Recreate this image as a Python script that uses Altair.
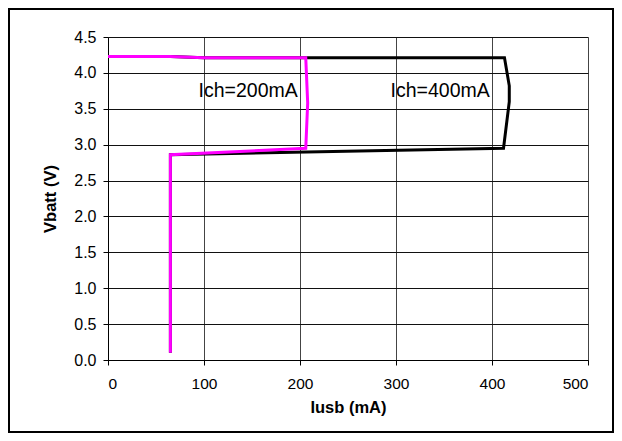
import altair as alt
import pandas as pd

# Data
black_x = [65, 65, 412, 418, 418, 413, 100, 65, 0]
black_y = [0.10, 2.86, 2.95, 3.60, 3.82, 4.21, 4.21, 4.23, 4.23]
magenta_x = [65, 65, 206, 208, 206, 100, 65, 0]
magenta_y = [0.10, 2.86, 2.95, 3.58, 4.21, 4.21, 4.23, 4.23]

label_text = ["Ich=200mA", "Ich=400mA"]
label_x = [146, 346]
label_y = [3.75, 3.75]

x_ticks = [0, 100, 200, 300, 400, 500]
y_ticks = [0.0, 0.5, 1.0, 1.5, 2.0, 2.5, 3.0, 3.5, 4.0, 4.5]

FONT = "Liberation Sans, Arial, sans-serif"

df_black = pd.DataFrame({"x": black_x, "y": black_y, "o": list(range(len(black_x)))})
df_mag = pd.DataFrame({"x": magenta_x, "y": magenta_y, "o": list(range(len(magenta_x)))})
df_lab = pd.DataFrame({"t": label_text, "x": label_x, "y": label_y})

xscale = alt.Scale(domain=[0, 500], nice=False, zero=False)
yscale = alt.Scale(domain=[0, 4.5], nice=False, zero=False)

xaxis = alt.Axis(values=x_ticks, title="Iusb (mA)", format="d",
                 grid=True, gridColor="#444444", gridWidth=1, gridOpacity=1,
                 domainColor="black", tickColor="black", tickSize=5,
                 labelFont=FONT, labelFontSize=15.5, labelColor="black", labelPadding=11,
                 labelOverlap=False,
                 titleFont=FONT, titleFontSize=16.5, titleFontWeight="bold",
                 titleColor="black", titlePadding=8)
yaxis = alt.Axis(values=y_ticks, title="Vbatt (V)", format=".1f",
                 grid=True, gridColor="#111111", gridWidth=1, gridOpacity=1,
                 domainColor="black", tickColor="black", tickSize=5,
                 labelFont=FONT, labelFontSize=16, labelColor="black", labelPadding=7,
                 labelOverlap=False,
                 titleFont=FONT, titleFontSize=16.5, titleFontWeight="bold",
                 titleColor="black", titlePadding=15)

X = alt.X("x:Q", scale=xscale, axis=xaxis)
Y = alt.Y("y:Q", scale=yscale, axis=yaxis)

black = alt.Chart(df_black).mark_line(color="black", strokeWidth=3, strokeJoin="miter").encode(
    x=X, y=Y, order="o:Q",
)
mag = alt.Chart(df_mag).mark_line(color="#FF00FF", strokeWidth=3, strokeJoin="miter").encode(
    x=X, y=Y, order="o:Q",
)
labels = alt.Chart(df_lab).mark_text(font=FONT, fontSize=19.5, color="black",
                                     align="center", baseline="middle").encode(
    x=X, y=Y, text="t:N",
)
frame = alt.Chart(alt.Data(values=[{}])).mark_rect(
    fill=None, stroke="black", strokeWidth=2, clip=False
).encode(
    x=alt.value(-99), x2=alt.value(505), y=alt.value(-28), y2=alt.value(395)
)

chart = alt.layer(black, mag, labels, frame).properties(
    width=480, height=323,
    padding={"left": 100, "top": 29, "right": 26, "bottom": 73},
    autosize=alt.AutoSizeParams(type="none"),
    background="white",
).configure_view(stroke=None)

chart.save("out.html", embed_options={"renderer": "svg", "actions": False})
